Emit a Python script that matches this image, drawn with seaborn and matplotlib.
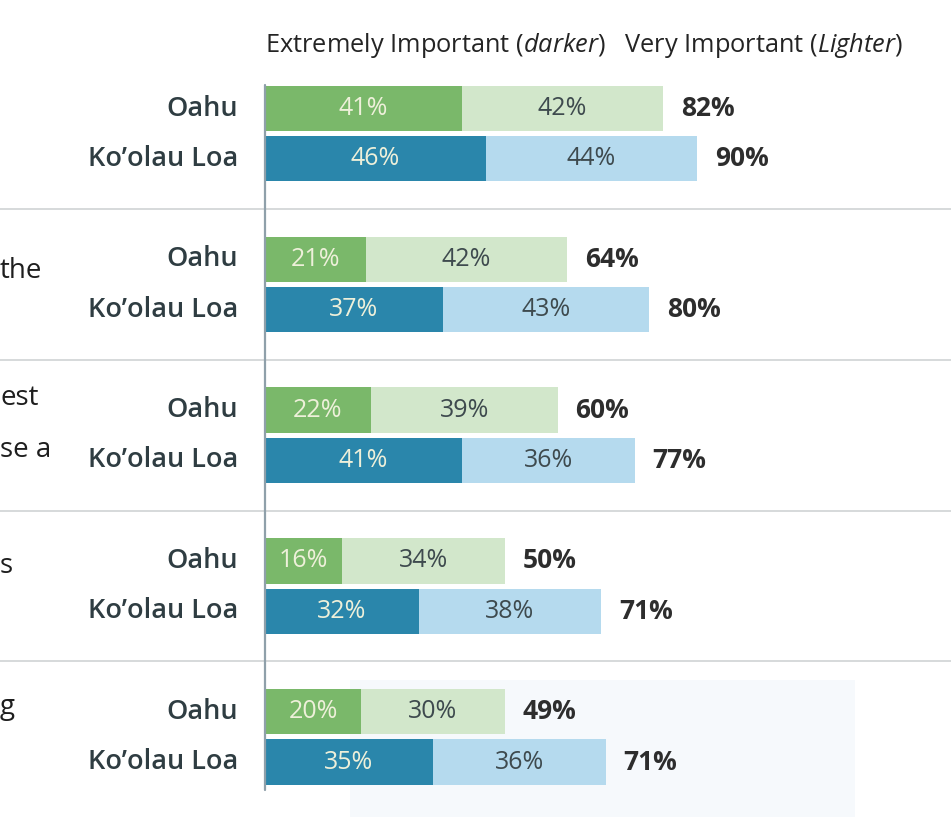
import matplotlib
matplotlib.use("Agg")
import matplotlib.pyplot as plt
from matplotlib.patches import Rectangle
import seaborn as sns
import pandas as pd

# values (percent)
regions = ["Oahu", "Ko\u2019olau Loa"]
oahu_extreme = [41, 21, 22, 16, 20]
oahu_very = [42, 42, 39, 34, 30]
oahu_total = [82, 64, 60, 50, 49]
koolau_extreme = [46, 37, 41, 32, 35]
koolau_very = [44, 43, 36, 38, 36]
koolau_total = [90, 80, 77, 71, 71]
# cut-off question text visible at the left edge (text, row slot)
question_bits = [("the", 3.24), ("est", 5.76), ("se a", 6.8), ("s", 9.1), ("g", 11.9)]

rows = []
for g in range(5):
    rows.append(dict(pos=g * 3, region=regions[0], extreme=oahu_extreme[g],
                     very=oahu_very[g], total=oahu_total[g]))
    rows.append(dict(pos=g * 3 + 1, region=regions[1], extreme=koolau_extreme[g],
                     very=koolau_very[g], total=koolau_total[g]))
df = pd.DataFrame(rows)
df["stack"] = df["extreme"] + df["very"]

dark = {regions[0]: "#7ab86a", regions[1]: "#2a86ab"}
light = {regions[0]: "#d2e7cb", regions[1]: "#b5daee"}

sns.set_theme(style="white")
plt.rcParams["font.family"] = ["Open Sans", "DejaVu Sans"]
plt.rcParams["mathtext.fontset"] = "custom"
plt.rcParams["mathtext.it"] = "Open Sans:italic"
plt.rcParams["mathtext.rm"] = "Open Sans"

fig = plt.figure(figsize=(9.51, 8.17), dpi=100, facecolor="white")
ax = fig.add_axes([0, 0, 1, 1])
ax.set_facecolor("#fafbfb")

px = 4.8      # pixels per percent
py = 50.27    # pixels per row slot

# faint screenshot panels at the bottom right
ax.add_patch(Rectangle(((350 - 265) / px, (680 - 108.5) / py), 505 / px, 140 / py,
                       facecolor="#f6f9fc", edgecolor="none", zorder=0))
ax.add_patch(Rectangle(((855 - 265) / px, (660 - 108.5) / py), 100 / px, 160 / py,
                       facecolor="white", edgecolor="none", zorder=0))

# full stacked length in light colour, extreme share drawn over it
sns.barplot(data=df, x="stack", y="pos", hue="region", palette=light,
            orient="h", native_scale=True, width=0.9, dodge=False,
            legend=False, ax=ax, saturation=1, linewidth=0)
sns.barplot(data=df, x="extreme", y="pos", hue="region", palette=dark,
            orient="h", native_scale=True, width=0.9, dodge=False,
            legend=False, ax=ax, saturation=1, linewidth=0)

ax.set_xlim(-265 / px, (951 - 265) / px)
ax.set_ylim((817 - 108.5) / py, -108.5 / py)
ax.axis("off")

for _, r in df.iterrows():
    y = r["pos"]
    ax.text(r["extreme"] / 2, y, f"{r['extreme']}%", ha="center", va="center",
            fontsize=18, color="#eef0da")
    ax.text(r["extreme"] + r["very"] / 2, y, f"{r['very']}%", ha="center",
            va="center", fontsize=18, color="#3e4a4e")
    ax.text(r["stack"] + 3.7, y, f"{r['total']}%", ha="left", va="center",
            fontsize=19, fontweight="bold", color="#2d2d2d")
    ax.text(-5.6, y, r["region"], ha="right", va="center", fontsize=19.5,
            fontweight="semibold", color="#2f3d42")

# separators between questions and the baseline
for g in range(4):
    ax.axhline(g * 3 + 2, color="#d6d9da", lw=1.4, zorder=0.5)
ax.plot([0, 0], [-0.47, 13.56], color="#8fa0aa", lw=1.6, zorder=3)

for bit, slot in question_bits:
    ax.text(-55.2, slot, bit, ha="left", va="center", fontsize=20,
            color="#1e1e1e")

fig.text(265 / 951, 1 - 45 / 817,
         r"Extremely Important ($\mathit{darker}$)   Very Important ($\mathit{Lighter}$)",
         ha="left", va="center", fontsize=18.3, color="#242424")

fig.savefig("out.png", dpi=100, facecolor="white")
